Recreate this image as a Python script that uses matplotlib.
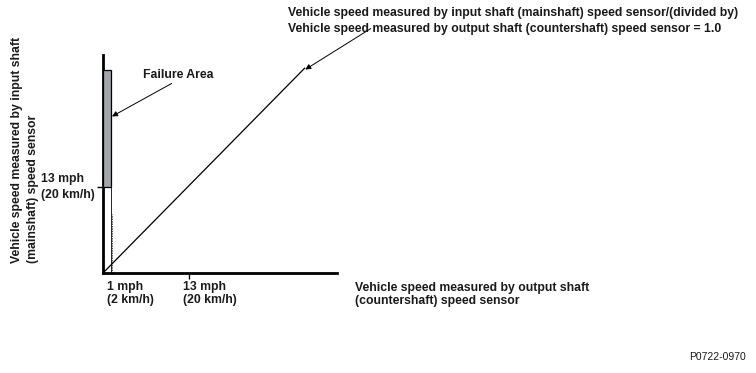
import matplotlib
matplotlib.use("Agg")
import matplotlib.pyplot as plt
from matplotlib.patches import Rectangle

# ---- data (mph) ----
ratio_line_x = [0, 30.5]
ratio_line_y = [0, 31.0]
failure_x = [0, 1.2]          # failure area x extent
failure_y = [13, 30.7]        # failure area y extent
x_ticks = [1, 13]
x_tick_labels = ["1 mph\n(2 km/h)", "13 mph\n(20 km/h)"]
y_ticks = [13]
y_tick_labels = ["13 mph\n(20 km/h)"]
xlim = (0, 35.4)
ylim = (0, 33.0)

plt.rcParams['font.family'] = ['Liberation Sans', 'DejaVu Sans']
fs = 8.8

fig = plt.figure(figsize=(7.56, 3.73), dpi=100)
W, H = 756, 373
ax = fig.add_axes([103 / W, (H - 273) / H, (337 - 103) / W, (273 - 55) / H])
ax.set_xlim(*xlim)
ax.set_ylim(*ylim)
for s in ['top', 'right']:
    ax.spines[s].set_visible(False)
for s in ['left', 'bottom']:
    ax.spines[s].set_linewidth(2.0)
ax.set_xticks([x_ticks[1]])
ax.set_xticklabels([])
ax.set_yticks(y_ticks)
ax.set_yticklabels([])
ax.tick_params(axis='both', direction='out', length=4, width=1.0)

# failure area
ax.add_patch(Rectangle((failure_x[0], failure_y[0]), failure_x[1] - failure_x[0],
                       failure_y[1] - failure_y[0], facecolor='#a2a6ab',
                       edgecolor='black', linewidth=0.9, zorder=3))
ax.plot([failure_x[1], failure_x[1]], [0, failure_y[0]], color='black', lw=0.6, zorder=3)
ax.plot([failure_x[1] + 0.2, failure_x[1] + 0.2], [0, 9], color='black', lw=0.5,
        linestyle=(0, (2, 1.5)), zorder=3)

# ratio = 1.0 line
ax.plot(ratio_line_x, ratio_line_y, color='black', lw=0.9)

# arrows
ax.annotate("", xy=(1.36, 23.7), xytext=(10.4, 28.7), xycoords='data',
            arrowprops=dict(arrowstyle='-|>', color='black', lw=0.7, mutation_scale=8,
                            shrinkA=0, shrinkB=0), annotation_clip=False)
ax.annotate("", xy=(30.6, 30.8), xytext=(40.5, 37.0), xycoords='data',
            arrowprops=dict(arrowstyle='-|>', color='black', lw=0.7, mutation_scale=8,
                            shrinkA=0, shrinkB=0), annotation_clip=False)

# texts
kw = dict(fontsize=fs, fontweight='bold', color='#1a1a1a')
fig.text(25 / W, (H - 263) / H,
         "Vehicle speed measured by input shaft\n(mainshaft) speed sensor",
         rotation=90, ha='center', va='bottom', multialignment='left',
         linespacing=1.35, **kw)
fig.text(41 / W, (H - 187) / H, y_tick_labels[0], ha='left', va='center',
         linespacing=1.38, **kw)
for xt, lab in zip([107, 183], x_tick_labels):
    fig.text(xt / W, (H - 281) / H, lab, ha='left', va='top', linespacing=1.1, **kw)
fig.text(355 / W, (H - 282) / H,
         "Vehicle speed measured by output shaft\n(countershaft) speed sensor",
         ha='left', va='top', linespacing=1.1, **kw)
fig.text(143 / W, (H - 75) / H, "Failure Area", ha='left', va='center', **kw)
fig.text(288 / W, (H - 7) / H,
         "Vehicle speed measured by input shaft (mainshaft) speed sensor/(divided by)\n"
         "Vehicle speed measured by output shaft (countershaft) speed sensor = 1.0",
         ha='left', va='top', linespacing=1.43, **kw)
fig.text(746 / W, (H - 357) / H, "P0722-0970", ha='right', va='center',
         fontsize=7.5, color='#1a1a1a')

fig.savefig("out.png", dpi=100)
